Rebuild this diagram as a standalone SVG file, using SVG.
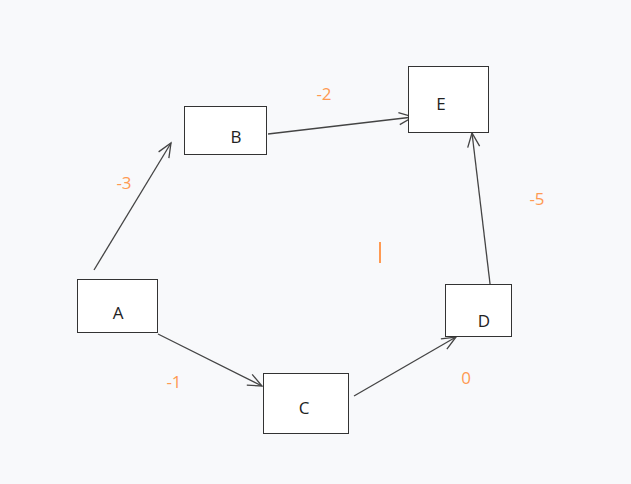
<svg xmlns="http://www.w3.org/2000/svg" width="631" height="484" viewBox="0 0 631 484">
<style>
.box{fill:#ffffff;stroke:#333333;stroke-width:1}
.lbl{font-family:"Open Sans","Noto Sans",sans-serif;font-size:17px;fill:#222222;text-anchor:middle}
.w{font-family:"Open Sans","Noto Sans",sans-serif;font-size:17px;fill:#ff9a52;text-anchor:middle}
.edge{stroke:#444444;stroke-width:1.3;fill:none;marker-end:url(#arr)}
</style>
<defs>
<marker id="arr" markerUnits="userSpaceOnUse" markerWidth="18" markerHeight="16" refX="15" refY="7" orient="auto">
<path d="M1,1 L15,7 L1,13" fill="none" stroke="#444444" stroke-width="1.3"/>
</marker>
</defs>
<rect width="631" height="484" fill="#f8f9fb"/>
<g id="edges">
<line class="edge" x1="94" y1="270" x2="171" y2="143"/>
<line class="edge" x1="268" y1="134" x2="413" y2="117"/>
<line class="edge" x1="158" y1="334" x2="262" y2="386"/>
<line class="edge" x1="354" y1="396" x2="456" y2="337"/>
<line class="edge" x1="491" y1="292" x2="472" y2="133"/>
</g>
<g id="weights">
<text class="w" x="124" y="189">-3</text>
<text class="w" x="324" y="100">-2</text>
<text class="w" x="174" y="388">-1</text>
<text class="w" x="466" y="384">0</text>
<text class="w" x="537" y="205">-5</text>
</g>
<rect x="379" y="242" width="2" height="21" fill="#ff9a52"/>
<g id="A"><rect class="box" x="77.5" y="279.5" width="80" height="53"/><text class="lbl" x="118" y="319">A</text></g>
<g id="B"><rect class="box" x="184.5" y="106.5" width="82" height="48"/><text class="lbl" x="236" y="143">B</text></g>
<g id="E"><rect class="box" x="408.5" y="66.5" width="80" height="66"/><text class="lbl" x="441" y="110">E</text></g>
<g id="C"><rect class="box" x="263.5" y="373.5" width="85" height="60"/><text class="lbl" x="304" y="414">C</text></g>
<g id="D"><rect class="box" x="445.5" y="284.5" width="66" height="52"/><text class="lbl" x="484" y="327">D</text></g>
</svg>
